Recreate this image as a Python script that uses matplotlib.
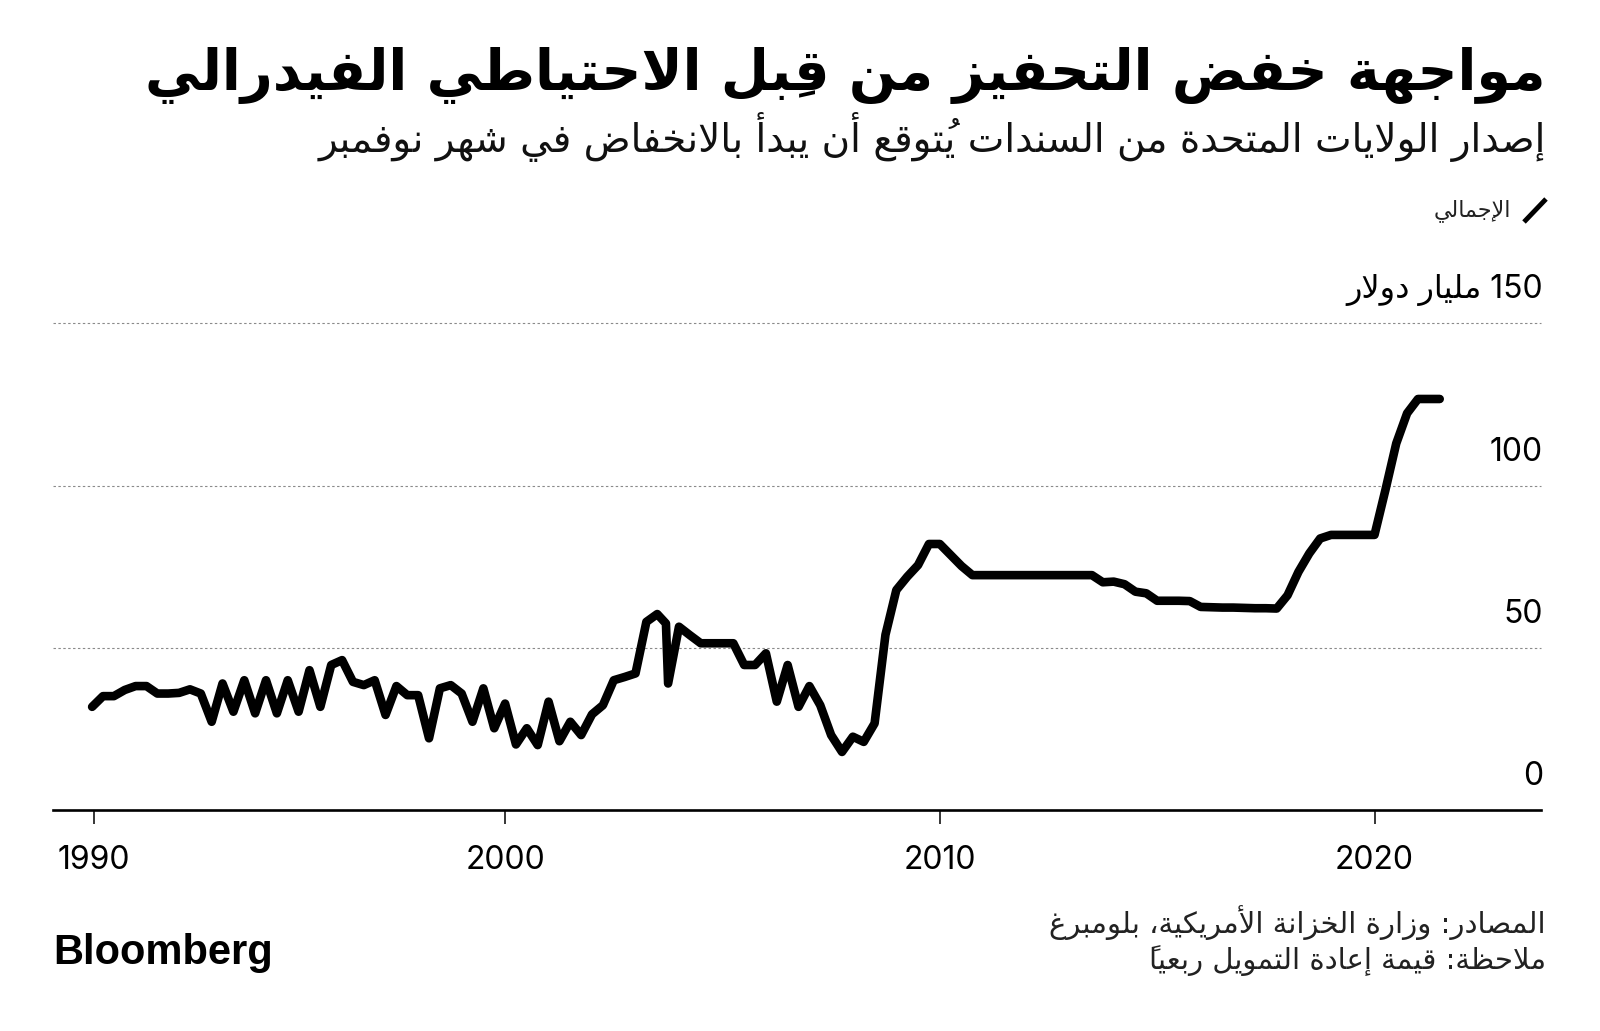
import numpy as np
import matplotlib
matplotlib.use("Agg")
import matplotlib.pyplot as plt
from matplotlib.lines import Line2D
from matplotlib.transforms import blended_transform_factory

# US Treasury coupon issuance, quarterly totals (bn $), first point Q3 1990
start_year = 1990.5
totals = [
    31.8, 35.1, 35.1, 37.0, 38.2, 38.2, 35.9, 35.9, 36.1, 37.2,   # 1990.50 - 1992.75
    35.9, 27.2, 39.0, 30.3, 40.0, 29.8, 40.0, 29.8, 40.0, 30.3,   # 1993.00 - 1995.25
    43.1, 31.8, 44.7, 46.2, 39.5, 38.5, 40.0, 29.3, 38.2, 35.4,   # 1995.50 - 1997.75
    35.4, 22.1, 37.5, 38.5, 35.9, 27.2, 37.5, 25.2, 32.8, 20.2,   # 1998.00 - 2000.25
    25.2, 20.0, 33.4, 21.2, 27.2, 23.1, 29.5, 32.3, 40.0, 41.0,   # 2000.50 - 2002.75
    42.1, 58.0, 60.4, 39.0, 56.5, 53.9, 51.4, 51.4, 51.4, 51.4,   # 2003.00 - 2005.25
    44.7, 44.7, 48.3, 33.4, 44.7, 31.8, 38.2, 32.3, 23.1, 17.9,   # 2005.50 - 2007.75
    22.6, 21.0, 26.7, 54.0, 67.8, 71.9, 75.5, 82.0, 82.0, 78.6,   # 2008.00 - 2010.25
    75.2, 72.4, 72.4, 72.4, 72.4, 72.4, 72.4, 72.4, 72.4, 72.4,   # 2010.50 - 2012.75
    72.4, 72.4, 72.4, 70.2, 70.4, 69.6, 67.3, 66.8, 64.5, 64.5,   # 2013.00 - 2015.25
    64.5, 64.4, 62.6, 62.5, 62.4, 62.4, 62.3, 62.2, 62.2, 62.1,   # 2015.50 - 2017.75
    66.2, 73.4, 79.1, 83.7, 84.8, 84.8, 84.8, 84.8, 84.8, 98.6,   # 2018.00 - 2020.25
    113.0, 122.3, 126.7, 126.7, 126.7,                            # 2020.50 - 2021.50
]
# extra reading just before the Q4 2003 dip
spike_year = 2003.70
spike_value = 57.5

grid_values = [0, 50, 100, 150]
grid_labels = ["0", "50", "100", "150 مليار دولار"]
year_ticks = [2000, 2010, 2020]
year_labels = ["1990", "2000", "2010", "2020"]

title = "مواجهة خفض التحفيز من قِبل الاحتياطي الفيدرالي"
subtitle = "إصدار الولايات المتحدة من السندات يُتوقع أن يبدأ بالانخفاض في شهر نوفمبر"
legend_label = "الإجمالي"
source = "المصادر: وزارة الخزانة الأمريكية، بلومبرغ"
note = "ملاحظة: قيمة إعادة التمويل ربعياً"


# --- minimal Arabic shaping (matplotlib has no text shaping) ---
LETTERS = "ءآأؤإئابةتثجحخدذرزسشصضطظعغفقكلمنهوىي"
NFORMS = [1, 2, 2, 2, 2, 4, 2, 4, 2, 4, 4, 4, 4, 4, 2, 2, 2, 2,
          4, 4, 4, 4, 4, 4, 4, 4, 4, 4, 4, 4, 4, 4, 4, 2, 2, 4]
FORMS = {}
_code = 0xFE80
for _ch, _n in zip(LETTERS, NFORMS):
    FORMS[_ch] = [chr(_code + i) for i in range(_n)]
    _code += _n
LAMALEF = {"آ": 0xFEF5, "أ": 0xFEF7, "إ": 0xFEF9, "ا": 0xFEFB}
MARKS = set(chr(c) for c in range(0x064B, 0x0653))


def shape(text):
    clusters = []
    for ch in text:
        if ch in MARKS and clusters:
            clusters[-1][1] += ch
        else:
            clusters.append([ch, ""])
    merged = []
    i = 0
    while i < len(clusters):
        base, marks = clusters[i]
        if base == "ل" and i + 1 < len(clusters) and clusters[i + 1][0] in LAMALEF:
            merged.append(["LA" + clusters[i + 1][0], marks + clusters[i + 1][1]])
            i += 2
        else:
            merged.append([base, marks])
            i += 1

    def dual(b):
        return b in FORMS and len(FORMS[b]) == 4

    def joining(b):
        return b.startswith("LA") or (b in FORMS and len(FORMS[b]) > 1)

    out = []
    for i, (base, marks) in enumerate(merged):
        prev_b = merged[i - 1][0] if i > 0 else ""
        next_b = merged[i + 1][0] if i + 1 < len(merged) else ""
        to_prev = joining(base) and dual(prev_b)
        to_next = dual(base) and joining(next_b)
        if base.startswith("LA"):
            g = chr(LAMALEF[base[2]] + (1 if to_prev else 0))
        elif base in FORMS:
            f = FORMS[base]
            if to_prev and to_next:
                g = f[3]
            elif to_prev:
                g = f[1]
            elif to_next:
                g = f[2]
            else:
                g = f[0]
        else:
            g = base
        out.append((g, marks, base.isascii() and base.isalnum()))

    # visual order: reverse, but keep latin / digit runs left-to-right.
    # marks go before their base so they land on top of it
    tokens = []
    for g, marks, ltr in out:
        if ltr and tokens and tokens[-1][1]:
            tokens[-1][0] += g
        else:
            tokens.append([marks + g, ltr])
    return "".join(t[0] for t in reversed(tokens))


AR = ["DejaVu Sans"]
NUM = ["Inter", "DejaVu Sans"]

W, H = 1600, 1031
fig = plt.figure(figsize=(W / 100, H / 100), dpi=100)
ax = fig.add_axes([53 / W, 221 / H, 1488 / W, 486.6 / H])

years = start_year + 0.25 * np.arange(len(totals))
k = np.searchsorted(years, spike_year)
years = np.insert(years, k, spike_year)
values = np.insert(np.array(totals), k, spike_value)

ax.plot(years, values, color="black", lw=6.2,
        solid_capstyle="round", solid_joinstyle="round", zorder=3)

ax.set_xlim(1989.6, 2023.83)
ax.set_ylim(0, 150)

## Spines
for s in ["top", "left", "right"]:
    ax.spines[s].set_visible(False)
ax.spines["bottom"].set_linewidth(1.9)
ax.spines["bottom"].set_color("black")

## X ticks
ax.set_xticks([years[0] + 0.05] + year_ticks)
ax.set_xticklabels(year_labels, family=NUM, fontsize=23)
ax.tick_params(axis="x", length=10, width=1.1, pad=15, color="black")

## Y grid + labels sitting above the lines
ax.set_yticks(grid_values)
ax.tick_params(axis="y", left=False, labelleft=False)
ax.grid(axis="y", linestyle=(0, (2.2, 2.2)), color="#8a8a8a", linewidth=0.8)
for gl in ax.get_ygridlines():
    gl.set_clip_on(False)
trans = blended_transform_factory(ax.transAxes, ax.transData)
for v, lab in zip(grid_values, grid_labels):
    ax.annotate(shape(lab), xy=(1, v), xycoords=trans, xytext=(1.5, 18),
                textcoords="offset points", ha="right", va="baseline",
                fontsize=23, family=NUM, color="black")

## Title block
fig.text(1546 / W, 1 - 76 / H, shape(title), ha="right", va="center",
         fontsize=40, fontweight="bold", family=AR, color="black")
fig.text(1546 / W, 1 - 137 / H, shape(subtitle), ha="right", va="center",
         fontsize=28, family=AR, color="#111111")

## Legend
fig.add_artist(Line2D([1524 / W, 1546 / W], [1 - 222 / H, 1 - 199 / H],
                      color="black", lw=3.5, solid_capstyle="butt"))
fig.text(1511 / W, 1 - 211 / H, shape(legend_label), ha="right", va="center",
         fontsize=16, family=AR, color="#222222")

## Footer
fig.text(1546 / W, 1 - 923 / H, shape(source), ha="right", va="center",
         fontsize=21, family=AR, color="#222222")
fig.text(1546 / W, 1 - 961 / H, shape(note), ha="right", va="center",
         fontsize=21, family=AR, color="#222222")
fig.text(53 / W, 1 - 953 / H, "Bloomberg", ha="left", va="center",
         fontsize=30, fontweight="bold", family="Liberation Sans", color="black")

fig.savefig("out.png", dpi=100, facecolor="white")
